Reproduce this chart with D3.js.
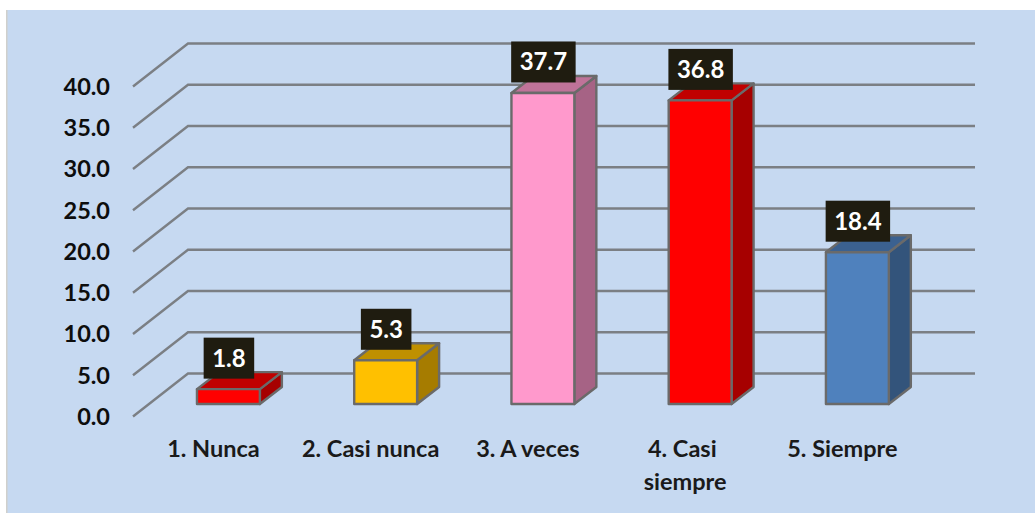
<!DOCTYPE html>
<html><head><meta charset="utf-8">
<script src="https://cdn.jsdelivr.net/npm/d3@7"></script>
<style>
html,body{margin:0;padding:0;background:#fff}
svg{display:block}
text{font-family:Lato,"Open Sans",sans-serif;font-weight:700;white-space:pre}
</style></head><body>
<svg id="c" width="1035" height="513"></svg>
<script>
const categories = ["1. Nunca", "2. Casi nunca", "3. A veces", "4. Casi \nsiempre", "5. Siempre"];
const values = [1.8, 5.3, 37.7, 36.8, 18.4];
const frontColors = ["#ff0000", "#ffc000", "#ff99cc", "#ff0000", "#4f81bd"];
const topColors = ["#c00000", "#bf9000", "#bf7399", "#c00000", "#3b6190"];
const sideColors = ["#a60000", "#a67c00", "#a66385", "#a60000", "#33547b"];
const tickValues = [0, 5, 10, 15, 20, 25, 30, 35, 40];

const W = 1035, H = 513;
const svg = d3.select("#c");
svg.append("rect").attr("x", 7).attr("y", 10).attr("width", W - 7).attr("height", H - 10).attr("fill", "#c6d9f1");
svg.append("rect").attr("x", 6).attr("y", 10).attr("width", 1.5).attr("height", H - 10).attr("fill", "#d0d0cc");

// planes: front of the floor, back wall and bar front share one unit height
const yFront = d3.scaleLinear().domain([0, 40]).range([416.5, 86.5]);
const yWall = d3.scaleLinear().domain([0, 40]).range([373.5, 43.5]);
const yBar = d3.scaleLinear().domain([0, 40]).range([404, 74]);
const x = d3.scaleBand().domain(categories).range([149.8, 936]).paddingInner(0.6).paddingOuter(0.3);
const wallLeft = 188, wallRight = 975, floorLeft = 133;
const depthX = 22, depthY = -17;
const gridColor = "#7b7f84", edge = "#6a6a6a";

// gridlines
const grid = svg.append("g").attr("fill", "none").attr("stroke", gridColor).attr("stroke-width", 2.4);
grid.selectAll("path").data(tickValues).join("path")
  .attr("d", d => `M${floorLeft},${yFront(d)}L${wallLeft},${yWall(d)}L${wallRight},${yWall(d)}`);

// value axis
const axis = svg.append("g").attr("transform", "translate(110,0)")
  .call(d3.axisLeft(yFront).tickValues(tickValues).tickFormat(d3.format(".1f")).tickSize(0).tickPadding(0));
axis.select(".domain").remove();
axis.selectAll("text").attr("font-size", 23.5).attr("fill", "#0d0d0d").attr("dy", "0.33em")
  .style("font-family", "Lato").style("font-weight", 700);

// bars
const bars = svg.append("g").selectAll("g").data(categories).join("g")
  .attr("stroke", edge).attr("stroke-width", 2.4).attr("stroke-linejoin", "round");
bars.each(function (c, i) {
  const g = d3.select(this);
  const x0 = x(c), x1 = x0 + x.bandwidth(), b = yBar(0), t = yBar(values[i]);
  g.append("path").attr("fill", sideColors[i])
    .attr("d", `M${x1},${t}L${x1 + depthX},${t + depthY}L${x1 + depthX},${b + depthY}L${x1},${b}Z`);
  g.append("path").attr("fill", topColors[i])
    .attr("d", `M${x0},${t}L${x0 + depthX},${t + depthY}L${x1 + depthX},${t + depthY}L${x1},${t}Z`);
  g.append("path").attr("fill", frontColors[i])
    .attr("d", `M${x0},${t}L${x1},${t}L${x1},${b}L${x0},${b}Z`);
});

// value labels
const labels = svg.append("g").selectAll("g").data(categories).join("g");
labels.each(function (c, i) {
  const g = d3.select(this);
  const cx = x(c) + x.bandwidth() / 2 + 0.5, bottom = yBar(values[i]) - 10.5;
  const box = g.append("rect").attr("fill", "#1f1c10");
  const t = g.append("text").text(d3.format(".1f")(values[i]))
    .attr("x", cx).attr("y", bottom - 20.5).attr("dy", "0.35em")
    .attr("text-anchor", "middle").attr("font-size", 24).attr("fill", "#fff");
  const w = t.node().getComputedTextLength() + 17;
  box.attr("x", cx - w / 2).attr("y", bottom - 41).attr("width", w).attr("height", 41);
});

// category labels
const cats = svg.append("g").selectAll("text").data(categories).join("text")
  .attr("x", c => x(c) + x.bandwidth() / 2 - 15)
  .attr("y", 457).attr("text-anchor", "middle")
  .attr("font-size", 23.5).attr("fill", "#1a1a1a");
cats.each(function (c) {
  const el = d3.select(this), px = el.attr("x");
  c.split("\n").forEach((line, k) => {
    el.append("tspan").attr("x", px).attr("dy", k ? 33 : 0).text(line);
  });
});
</script>
</body></html>
